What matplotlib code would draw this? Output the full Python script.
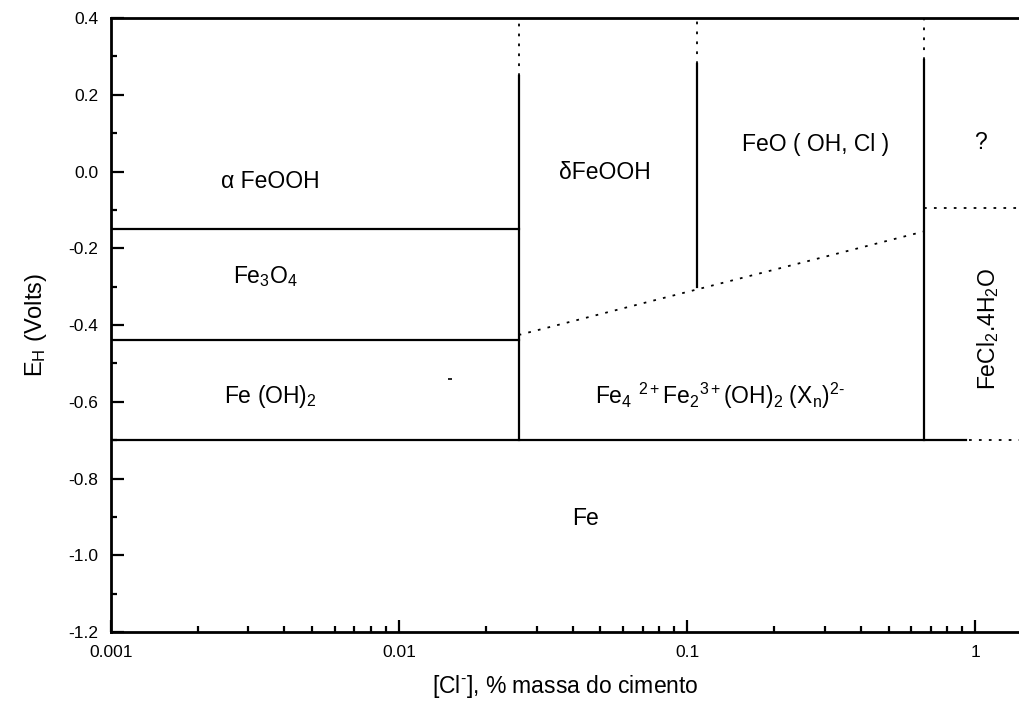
import matplotlib
matplotlib.use("Agg")
import matplotlib.pyplot as plt
from matplotlib.ticker import FixedLocator, FixedFormatter, MultipleLocator, NullFormatter, FormatStrFormatter

plt.rcParams['font.family'] = ['Liberation Sans', 'DejaVu Sans']
plt.rcParams['mathtext.fontset'] = 'custom'
plt.rcParams['mathtext.rm'] = 'Liberation Sans'
plt.rcParams['mathtext.it'] = 'Liberation Sans'
plt.rcParams['mathtext.default'] = 'regular'
plt.rcParams['axes.unicode_minus'] = False

# phase boundaries: chloride content (% cement mass) and potential E_H (V)
x_cl = [0.026, 0.108, 0.665]
vert_top = [0.25, 0.28, 0.29]
vert_bottom = [-0.70, -0.30, -0.70]

e_fe = -0.70          # Fe / oxides
e_fe3o4 = -0.44       # Fe(OH)2 / Fe3O4
e_feooh = -0.15       # Fe3O4 / alpha FeOOH
e_fecl2 = -0.094      # dotted limit of FeCl2.4H2O
x_fe_end = 0.93

green_rust_x = [0.026, 0.665]
green_rust_e = [-0.426, -0.156]

x_min, x_max = 0.001, 1.43
y_min, y_max = -1.2, 0.4

x_ticks = [0.001, 0.01, 0.1, 1]
x_tick_labels = ["0.001", "0.01", "0.1", "1"]

# region labels: (text, x, y, rotation)
regions = [
    ("α FeOOH", 0.00357, -0.026, 0),
    (r"Fe$_3$O$_4$", 0.00343, -0.273, 0),
    (r"Fe (OH)$_2$", 0.00357, -0.585, 0),
    ("δFeOOH", 0.0519, -0.003, 0),
    ("FeO ( OH, Cl )", 0.278, 0.07, 0),
    ("?", 1.04, 0.075, 0),
    (r"Fe$_4$ $^{2+}$Fe$_2$$^{3+}$(OH)$_2$ (X$_n$)$^{\text{2-}}$", 0.130, -0.585, 0),
    (r"FeCl$_2$.4H$_2$O", 1.11, -0.41, 90),
    ("Fe", 0.0443, -0.904, 0),
]

fig = plt.figure(figsize=(10.2, 7.01), dpi=100)
ax = fig.add_axes([0.1088, 0.0984, 0.8912, 0.8759])
ax.set_xscale("log")
ax.set_xlim(x_min, x_max)
ax.set_ylim(y_min, y_max)

lw = 1.6
dots = (0, (1.5, 4))
# horizontal boundaries
ax.plot([x_min, x_fe_end], [e_fe, e_fe], color="black", lw=lw)
ax.plot([x_fe_end + 0.02, x_max], [e_fe, e_fe], color="black", lw=1.3, ls=dots)
ax.plot([x_min, x_cl[0]], [e_fe3o4, e_fe3o4], color="black", lw=lw)
ax.plot([x_min, x_cl[0]], [e_feooh, e_feooh], color="black", lw=lw)
ax.plot([x_cl[2], x_max], [e_fecl2, e_fecl2], color="black", lw=1.3, ls=dots)

# vertical boundaries, dotted above the solid part
for xv, top, bot in zip(x_cl, vert_top, vert_bottom):
    ax.plot([xv, xv], [bot, top], color="black", lw=lw)
    ax.plot([xv, xv], [top, y_max], color="black", lw=1.3, ls=dots)

# green rust upper limit
ax.plot(green_rust_x, green_rust_e, color="black", lw=1.3, ls=dots)
ax.plot([0.01503], [-0.54], marker="_", color="black", ms=3, mew=1.2)

for txt, xt, yt, rot in regions:
    ax.text(xt, yt, txt, ha="center", va="center", fontsize=16.5, rotation=rot)

ax.spines["right"].set_visible(False)
for s in ["left", "bottom", "top"]:
    ax.spines[s].set_linewidth(2.0)

ax.xaxis.set_major_locator(FixedLocator(x_ticks))
ax.xaxis.set_major_formatter(FixedFormatter(x_tick_labels))
minor = [m * d for d in [0.001, 0.01, 0.1, 1] for m in range(2, 10) if m * d <= x_max]
ax.xaxis.set_minor_locator(FixedLocator(minor))
ax.xaxis.set_minor_formatter(NullFormatter())

ax.yaxis.set_major_locator(MultipleLocator(0.2))
ax.yaxis.set_minor_locator(MultipleLocator(0.1))
ax.yaxis.set_major_formatter(FormatStrFormatter("%.1f"))

ax.tick_params(which="major", direction="in", length=9, width=1.6, labelsize=12.5, pad=9,
               top=False, right=False)
ax.tick_params(which="minor", direction="in", length=4.5, width=1.6, top=False, right=False)

ax.set_xlabel(r"[Cl$^{\text{-}}$], % massa do cimento", fontsize=16.5, labelpad=10)
ax.set_ylabel(r"E$_H$ (Volts)", fontsize=17, labelpad=14)

fig.savefig("out.png", dpi=100)
